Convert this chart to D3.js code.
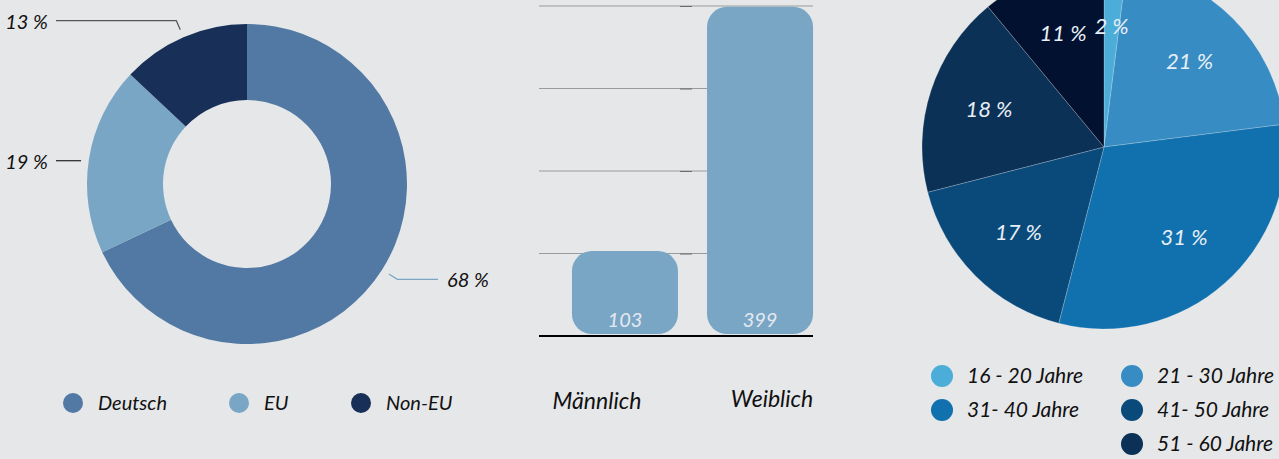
<!DOCTYPE html>
<html>
<head>
<meta charset="utf-8">
<script src="https://cdn.jsdelivr.net/npm/d3@7"></script>
<style>
  body { margin: 0; background: #e6e7e9; }
  svg { display: block; font-family: Lato, "Open Sans", sans-serif; font-style: italic; }
</style>
</head>
<body>
<div id="chart"></div>
<script>
// origin (donut)
const originLabels = ['Deutsch', 'EU', 'Non-EU'];
const originShares = [68, 19, 13];
const originColors = ['#5279a3', '#7aa6c5', '#182f58'];

// gender (bars)
const genderLabels = ['Männlich', 'Weiblich'];
const genderCounts = [103, 399];
const genderTicks = [0, 100, 200, 300, 400];

// age groups (pie)
const ageLabels = ['16 - 20 Jahre', '21 - 30 Jahre', '31- 40 Jahre', '41- 50 Jahre', '51 - 60 Jahre', 'über 60 Jahre'];
const ageShares = [2, 21, 31, 17, 18, 11];
const ageColors = ['#4badd8', '#378cc4', '#1071ae', '#0a4a7b', '#0b3157', '#02112f'];

const width = 1279;
const height = 459;

const svg = d3.select('#chart')
  .append('svg')
  .attr('width', width)
  .attr('height', height);

// ---------- donut ----------
const donut = svg.append('g').attr('transform', 'translate(247,184)');
const pie = d3.pie().sort(null).value(d => d);
const originArcs = pie(originShares);
const arc = d3.arc().innerRadius(84).outerRadius(160);

donut.selectAll('path')
  .data(originArcs)
  .enter()
  .append('path')
  .attr('d', arc)
  .attr('fill', (d, i) => originColors[i]);

const pt = (a, r) => [r * Math.sin(a), -r * Math.cos(a)];
const leaderColors = ['#7aa6c5', '#222', '#555'];

originArcs.forEach((d, i) => {
  const mid = (d.startAngle + d.endAngle) / 2;
  const p0 = pt(mid, 168);
  // nearly horizontal leaders get no elbow
  const p1 = Math.abs(p0[1]) < 40 ? [p0[0], p0[1] + 3] : pt(mid, 178);
  const start = Math.abs(p0[1]) < 40 ? p1 : p0;
  const right = p0[0] > 0;
  const xEnd = right ? 191 : -191;
  donut.append('polyline')
    .attr('points', [start, p1, [xEnd, p1[1]]].map(p => p.join(',')).join(' '))
    .attr('fill', 'none')
    .attr('stroke', leaderColors[i])
    .attr('stroke-width', 1.2);
  donut.append('text')
    .attr('x', right ? xEnd + 9 : xEnd - 8)
    .attr('y', p1[1])
    .attr('dy', '0.4em')
    .attr('text-anchor', right ? 'start' : 'end')
    .attr('font-size', 20)
    .attr('fill', '#111')
    .text(`${originShares[i]} %`);
});

const originLegend = svg.append('g')
  .selectAll('g')
  .data(originLabels)
  .enter()
  .append('g')
  .attr('transform', (d, i) => `translate(${[73, 239, 361][i]},403)`);
originLegend.append('circle')
  .attr('r', 10)
  .attr('fill', (d, i) => originColors[i]);
originLegend.append('text')
  .attr('x', 25)
  .attr('dy', '0.35em')
  .attr('font-size', 20)
  .attr('fill', '#111')
  .text(d => d);

// ---------- bars ----------
const y = d3.scaleLinear().domain([0, 400]).range([336, 6]);
const x = d3.scaleBand()
  .domain(genderLabels)
  .range([539, 846])
  .paddingInner(0.215)
  .paddingOuter(0.244);

const bars = svg.append('g');
bars.selectAll('.grid')
  .data(genderTicks.slice(1))
  .enter()
  .append('line')
  .attr('class', 'grid')
  .attr('x1', 539)
  .attr('x2', 813)
  .attr('y1', d => y(d))
  .attr('y2', d => y(d))
  .attr('stroke', '#9a9b9d')
  .attr('stroke-width', 1);

bars.append('g')
  .attr('transform', 'translate(680,0)')
  .call(d3.axisRight(y).tickValues(genderTicks).tickSize(12).tickFormat(''))
  .call(g => g.select('.domain').remove())
  .call(g => g.selectAll('line').attr('stroke', '#6a6b6d'));

bars.selectAll('rect')
  .data(genderCounts)
  .enter()
  .append('rect')
  .attr('x', (d, i) => x(genderLabels[i]))
  .attr('y', d => y(d))
  .attr('width', x.bandwidth())
  .attr('height', d => y(0) - y(d) - 2)
  .attr('rx', 20)
  .attr('fill', '#7aa6c5');

bars.append('line')
  .attr('x1', 539)
  .attr('x2', 813)
  .attr('y1', y(0))
  .attr('y2', y(0))
  .attr('stroke', '#000')
  .attr('stroke-width', 2);

bars.selectAll('.val')
  .data(genderCounts)
  .enter()
  .append('text')
  .attr('class', 'val')
  .attr('x', (d, i) => x(genderLabels[i]) + x.bandwidth() / 2)
  .attr('y', 327)
  .attr('text-anchor', 'middle')
  .attr('font-size', 20)
  .attr('fill', '#e4e9f0')
  .text(d => d);

bars.selectAll('.cat')
  .data(genderLabels)
  .enter()
  .append('text')
  .attr('class', 'cat')
  .attr('x', (d, i) => x(d) + x.bandwidth() / 2 + [-28, 12][i])
  .attr('y', (d, i) => [409, 407][i])
  .attr('text-anchor', 'middle')
  .attr('font-size', 23)
  .attr('fill', '#111')
  .text(d => d);

// ---------- pie ----------
const agePie = svg.append('g').attr('transform', 'translate(1104,147)');
const ageArcs = pie(ageShares);
const pieArc = d3.arc().innerRadius(0).outerRadius(182);
const labelArc = d3.arc().innerRadius(121).outerRadius(121);

agePie.selectAll('path')
  .data(ageArcs)
  .enter()
  .append('path')
  .attr('d', pieArc)
  .attr('fill', (d, i) => ageColors[i])
  .attr('stroke', 'rgba(255,255,255,0.35)')
  .attr('stroke-width', 0.6);

agePie.selectAll('text')
  .data(ageArcs)
  .enter()
  .append('text')
  .attr('transform', d => `translate(${labelArc.centroid(d)})`)
  .attr('dy', '0.35em')
  .attr('text-anchor', 'middle')
  .attr('font-size', 22)
  .attr('fill', '#e8eef5')
  .text(d => `${d.data} %`);

// legend slots: two columns, last visible item sits in column two
const legendSlots = [[0, 0], [1, 0], [0, 1], [1, 1], [1, 2]];
const ageLegend = svg.append('g')
  .selectAll('g')
  .data(ageLabels.slice(0, 5))
  .enter()
  .append('g')
  .attr('transform', (d, i) => `translate(${942 + legendSlots[i][0] * 190},${376 + legendSlots[i][1] * 34})`);
ageLegend.append('circle')
  .attr('r', 11)
  .attr('fill', (d, i) => ageColors[i]);
ageLegend.append('text')
  .attr('x', 25)
  .attr('dy', '0.35em')
  .attr('font-size', 21)
  .attr('fill', '#111')
  .text(d => d);
</script>
</body>
</html>
